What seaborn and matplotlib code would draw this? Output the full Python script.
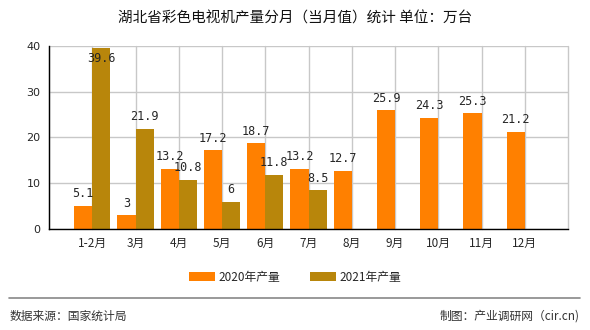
import numpy as np
import pandas as pd
import matplotlib
matplotlib.use("Agg")
import matplotlib.pyplot as plt
import seaborn as sns
from matplotlib.patches import Patch
from matplotlib.lines import Line2D

months = ["1-2月", "3月", "4月", "5月", "6月", "7月", "8月", "9月", "10月", "11月", "12月"]
v2020 = [5.1, 3, 13.2, 17.2, 18.7, 13.2, 12.7, 25.9, 24.3, 25.3, 21.2]
v2021 = [39.6, 21.9, 10.8, 6, 11.8, 8.5, np.nan, np.nan, np.nan, np.nan, np.nan]
series = ["2020年产量", "2021年产量"]
colors = ["#FF8000", "#B8860B"]
yticks = [0, 10, 20, 30, 40]

df = pd.DataFrame({
    "month": months * 2,
    "value": v2020 + v2021,
    "series": [series[0]] * len(months) + [series[1]] * len(months),
})

sns.set_style("white")
plt.rcParams['font.family'] = ['Noto Sans CJK SC', 'DejaVu Sans']

fig = plt.figure(figsize=(5.9, 3.3), dpi=100)
ax = fig.add_axes([0.083, 0.306, 0.880, 0.555])

sns.barplot(data=df, x="month", y="value", hue="series", order=months,
            hue_order=series, palette=colors, width=0.84, saturation=1,
            legend=False, ax=ax, zorder=3, linewidth=0)

ymax = 40
ax.set_ylim(0, ymax)
ax.set_xlim(-1, len(months))
ax.set_yticks(yticks)
ax.set_yticklabels([str(t) for t in yticks], fontsize=8, family="DejaVu Sans")
xt = list(range(-1, len(months) + 1))
ax.set_xticks(xt)
ax.set_xticklabels([""] + months + [""], fontsize=8.5)
ax.set_xlabel("")
ax.set_ylabel("")
ax.yaxis.grid(True, color="#c8c8c8", linewidth=1.0, zorder=0)
for x in xt:
    ax.axvline(x, color="#c8c8c8", linewidth=1.0, zorder=1, clip_on=False)
for s in ["top", "right"]:
    ax.spines[s].set_visible(False)
for s in ["left", "bottom"]:
    ax.spines[s].set_color("black")
    ax.spines[s].set_linewidth(1.0)
    ax.spines[s].set_zorder(5)
ax.tick_params(axis="both", direction="out", length=4, width=1, color="black", pad=2)

# value labels
for cont in ax.containers:
    for bar in cont:
        h = bar.get_height()
        if np.isnan(h):
            continue
        xc = bar.get_x() + bar.get_width() / 2
        txt = f"{h:g}"
        if h > ymax - 3:
            ax.annotate(txt, (xc, h), xytext=(0, -3), textcoords="offset points",
                        ha="center", va="top", fontsize=8.5, family="DejaVu Sans Mono", zorder=6)
        else:
            ax.annotate(txt, (xc, h), xytext=(0, 4), textcoords="offset points",
                        ha="center", va="bottom", fontsize=8.5, family="DejaVu Sans Mono", zorder=6)

fig.text(0.5, 0.945, "湖北省彩色电视机产量分月（当月值）统计 单位：万台",
         ha="center", va="center", fontsize=10.5, color="#111111")

handles = [Patch(facecolor=c, edgecolor="none") for c in colors]
fig.legend(handles, series, loc="center", bbox_to_anchor=(0.5, 0.16), ncol=2,
           frameon=False, fontsize=8.5, handlelength=2.2, handleheight=0.7,
           columnspacing=2.5, handletextpad=0.3)

fig.add_artist(Line2D([0.015, 0.983], [0.097, 0.097], color="#888888", linewidth=1.2))
fig.text(0.017, 0.042, "数据来源：国家统计局", ha="left", va="center", fontsize=8.5, color="#333333")
fig.text(0.983, 0.042, "制图：产业调研网（cir.cn)", ha="right", va="center", fontsize=8.5, color="#333333")

fig.savefig("out.png", dpi=100)
